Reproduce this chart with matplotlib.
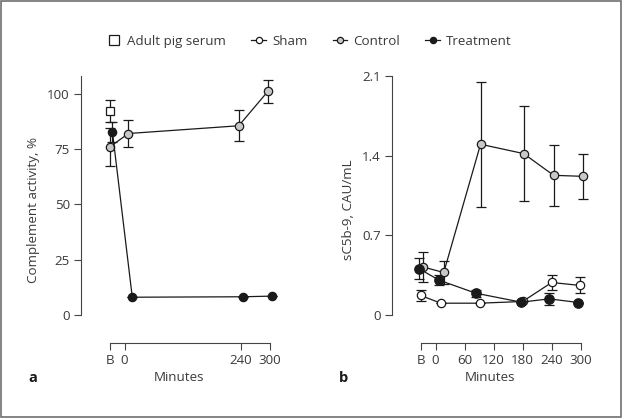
import matplotlib
matplotlib.use("Agg")
from matplotlib import pyplot as plt
from matplotlib.lines import Line2D

plt.rcParams['font.family'] = ['Open Sans', 'DejaVu Sans']
plt.rcParams['font.size'] = 9.6

# Panel a: complement activity, %
serum_x = [-30]
serum_y = [92]
serum_err = [5]

ctrl_a_x = [-30, 8, 236, 296]
ctrl_a_y = [76, 82, 85.5, 101]
ctrl_a_err = [8.5, 6, 7, 5]

treat_a_x = [-25, 16, 244, 304]
treat_a_y = [82.7, 8, 8.2, 8.5]
treat_a_err = [4.5, 0, 0, 0]

# Panel b: sC5b-9, CAU/mL
sham_x = [-31, 11, 91, 180, 240, 299]
sham_y = [0.171, 0.103, 0.103, 0.118, 0.285, 0.259]
sham_err = [0.05, 0, 0, 0, 0.065, 0.07]

ctrl_b_x = [-25, 17, 93, 182, 244, 304]
ctrl_b_y = [0.42, 0.373, 1.50, 1.418, 1.227, 1.218]
ctrl_b_err = [0.13, 0.10, 0.55, 0.42, 0.27, 0.20]

treat_b_x = [-34, 7, 83, 177, 235, 295]
treat_b_y = [0.406, 0.306, 0.191, 0.112, 0.141, 0.109]
treat_b_err = [0.09, 0.045, 0.03, 0, 0.05, 0]

ticks_a = [-30, 0, 240, 300]
ticklabels_a = ['B', '0', '240', '300']
ticks_b = [-30, 0, 60, 120, 180, 240, 300]
ticklabels_b = ['B', '0', '60', '120', '180', '240', '300']

txt = '#3a3a3a'
ink = '#1a1a1a'
grey = '#c8c8c8'

fig = plt.figure(figsize=(6.22, 4.18), dpi=100)
ax_a = fig.add_axes([0.1302, 0.1794, 0.3151, 0.6388])
ax_b = fig.add_axes([0.6302, 0.1794, 0.3151, 0.6388])

# border round the figure
fig.patches.append(plt.Rectangle((0.002, 0.003), 0.996, 0.994, transform=fig.transFigure,
                                 fill=False, edgecolor='#707070', linewidth=1.2))


def series(ax, x, y, err, face, ms=6):
    ax.errorbar(x, y, yerr=err, color=ink, lw=0.9, elinewidth=0.9, capsize=3.5,
                capthick=0.9, marker='o', ms=ms, mfc=face, mec=ink, mew=0.9, zorder=3)


def style(ax, ylim, top, yticks, ticks, labels, ylabel, letter):
    ax.set_xlim(-90, 315)
    ax.set_ylim(ylim, top)
    for s in ['top', 'right']:
        ax.spines[s].set_visible(False)
    ax.spines['left'].set_bounds(0, top)
    ax.spines['bottom'].set_bounds(-30, 300)
    for s in ['left', 'bottom']:
        ax.spines[s].set_color('#444444')
        ax.spines[s].set_linewidth(0.8)
    ax.set_yticks(yticks)
    ax.set_xticks(ticks)
    ax.set_xticklabels(labels)
    ax.tick_params(colors='#444444', labelcolor=txt, length=5, width=0.8, labelsize=9.6,
                   pad=3)
    ax.set_ylabel(ylabel, color=txt, fontsize=9.6, labelpad=5)
    ax.set_xlabel('Minutes', color=txt, fontsize=9.6, labelpad=3)
    ax.text(-0.27, -0.145, letter, transform=ax.transAxes, fontsize=10.5,
            fontweight='bold', color=ink)


# panel a
ax_a.errorbar(serum_x, serum_y, yerr=serum_err, color=ink, lw=0, elinewidth=0.9,
              capsize=3.5, capthick=0.9, marker='s', ms=6, mfc='white', mec=ink,
              mew=0.9, zorder=3)
series(ax_a, ctrl_a_x, ctrl_a_y, ctrl_a_err, grey)
series(ax_a, treat_a_x, treat_a_y, treat_a_err, ink)
style(ax_a, -12.7, 108, [0, 25, 50, 75, 100], ticks_a, ticklabels_a,
      'Complement activity, %', 'a')

# panel b
series(ax_b, sham_x, sham_y, sham_err, 'white')
series(ax_b, ctrl_b_x, ctrl_b_y, ctrl_b_err, grey)
series(ax_b, treat_b_x, treat_b_y, treat_b_err, ink, ms=6.8)
style(ax_b, -0.247, 2.1, [0, 0.7, 1.4, 2.1], ticks_b, ticklabels_b,
      'sC5b-9, CAU/mL', 'b')
ax_b.set_yticklabels(['0', '0.7', '1.4', '2.1'])

# legend
handles = [
    Line2D([], [], ls='none', marker='s', ms=6.5, mfc='white', mec=ink, mew=0.9),
    Line2D([], [], color=ink, lw=0.9, marker='o', ms=4.5, mfc='white', mec=ink, mew=0.9),
    Line2D([], [], color=ink, lw=0.9, marker='o', ms=4.5, mfc=grey, mec=ink, mew=0.9),
    Line2D([], [], color=ink, lw=0.9, marker='o', ms=4.5, mfc=ink, mec=ink, mew=0.9),
]
fig.legend(handles, ['Adult pig serum', 'Sham', 'Control', 'Treatment'],
           loc='center', bbox_to_anchor=(0.497, 0.901), ncol=4, frameon=False,
           handlelength=1.1, handletextpad=0.45, columnspacing=1.9,
           fontsize=9.6, labelcolor=txt)

fig.savefig('out.png', dpi=100)
